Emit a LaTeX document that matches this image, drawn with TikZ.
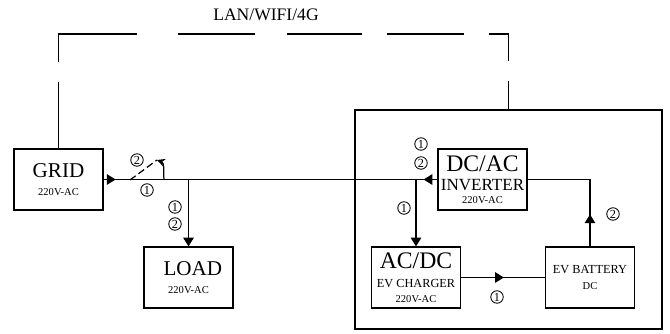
\documentclass[tikz,border=0pt]{standalone}
\usepackage{fontspec}
\setmainfont{Liberation Serif}
\usetikzlibrary{arrows.meta,positioning,decorations.markings}

\newcommand{\bigtxt}{\fontsize{12}{13}\selectfont}
\newcommand{\midtxt}{\fontsize{13.5}{14}\selectfont}
\newcommand{\invtxt}{\fontsize{9.7}{10}\selectfont}
\newcommand{\sevtxt}{\fontsize{7}{8}\selectfont}
\newcommand{\smalltxt}{\fontsize{6}{7}\selectfont}

\begin{document}
\begin{tikzpicture}[x=0.02cm, y=-0.02cm,
  unit/.style={draw, line width=0.7pt, minimum width=1.78cm, minimum height=1.22cm, inner sep=1pt, align=center},
  num/.style={circle, draw, line width=0.5pt, minimum size=0.25cm, inner sep=0pt, font=\fontsize{7}{7}\selectfont},
  link/.style={line width=0.7pt},
  tip/.style={-{Triangle[length=5pt,width=6pt]}},
  midtip/.style={postaction={decorate, decoration={markings, mark=at position #1 with {\arrow{Triangle[length=5pt,width=6pt]}}}}},
  midrev/.style={postaction={decorate, decoration={markings, mark=at position #1 with {\arrowreversed{Triangle[length=5pt,width=6pt]}}}}},
  net/.style={line width=0.7pt, dash pattern=on 38pt off 11.3pt on 60.7pt off 23.2pt on 43.7pt off 18.1pt on 43.1pt off 14.2pt on 43.7pt off 14.2pt on 26.6pt off 11.3pt on 15.9pt off 5pt}
]
\useasboundingbox (0,0) rectangle (670,334);

% units
\node[unit] (grid) at (58.5,179.5) {{\bigtxt GRID}\\[-2pt]{\smalltxt 220V-AC}};
\node[unit] (load) at (188.5,277.5) {{\bigtxt\hspace*{5pt}LOAD}\\[-2pt]{\smalltxt 220V-AC}};
\node[unit] (dcac) at (482.5,179.5) {{\midtxt DC/AC}\\[-1pt]{\invtxt INVERTER}\\[-4.5pt]{\smalltxt 220V-AC}};
\node[unit] (acdc) at (416,277.5) {{\midtxt AC/DC}\\[-1pt]{\sevtxt EV CHARGER}\\[-3.5pt]{\smalltxt 220V-AC}};
\node[unit] (batt) at (590,277.5) {{\sevtxt EV BATTERY}\\[-2.7pt]{\smalltxt DC}};
\node[draw, line width=0.7pt, minimum width=6.14cm, minimum height=4.38cm] (home) at (508.5,219.5) {};
\node[font=\fontsize{10}{12}\selectfont] (lan) at (266,15) {LAN/WIFI/4G};

% network link
\coordinate (lanleft) at (grid.north |- 0,34);
\coordinate (lanright) at (home.north |- 0,34);
\draw[net] (grid.north) -- (lanleft) -- (lanright) -- (home.north);

% power lines
\draw[link, midtip=0.24cm, midrev=6.4cm] (grid.east) -- (dcac.west);
\draw[link, tip] (grid.east -| load.north) -- (load.north);
\draw[link, tip] (grid.east -| acdc.north) -- (acdc.north);
\draw[link, midtip=0.51] (acdc.east) -- (batt.west);
\draw[link, midtip=0.64cm] (batt.north) |- (dcac.east);

% switch
\coordinate (swa) at (130,180);
\coordinate (swb) at (157,160);
\coordinate (swc) at (164,180);
\draw[link, dash pattern=on 4pt off 2pt] (swa) -- (swb);
\draw[link, -{Stealth[length=4.5pt,width=4.5pt]}] (swc) to[out=95, in=-20] (swb);

% modes
\node[num] (sw2) at (137,160) {2};
\node[num] (sw1) at (147,190) {1};
\node[num] (ld1) at (175,207) {1};
\node[num] (ld2) at (175,224) {2};
\node[num] (inv1) at (421,144) {1};
\node[num] (inv2) at (421,163) {2};
\node[num] (chg1) at (404,208) {1};
\node[num] (bat2) at (613,214) {2};
\node[num] (chb1) at (497,297) {1};
\end{tikzpicture}
\end{document}
